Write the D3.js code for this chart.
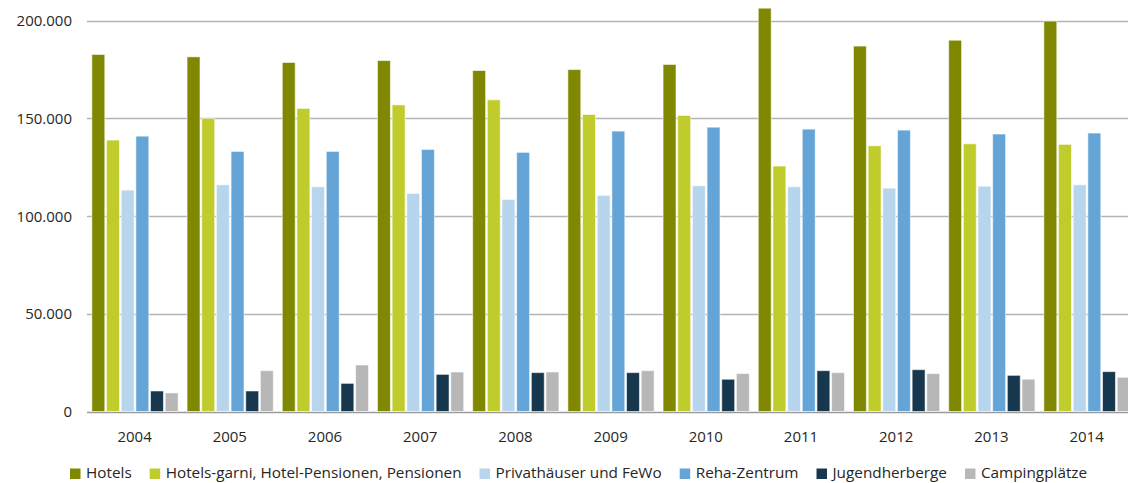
<!DOCTYPE html>
<html>
<head>
<meta charset="utf-8">
<script src="https://cdn.jsdelivr.net/npm/d3@7"></script>
<style>
  body { margin: 0; background: #fff; }
  svg { display: block; font-family: "Open Sans", sans-serif; }
</style>
</head>
<body>
<svg id="chart" width="1128" height="483"></svg>
<script>
// data
var years = ["2004", "2005", "2006", "2007", "2008", "2009", "2010", "2011", "2012", "2013", "2014"];
var seriesNames = ["Hotels", "Hotels-garni, Hotel-Pensionen, Pensionen", "Privathäuser und FeWo", "Reha-Zentrum", "Jugendherberge", "Campingplätze"];
var seriesColors = ["#7f8800", "#c0cc2b", "#b7d5ec", "#64a4d6", "#17374f", "#b7b7b7"];

var hotels   = [182700, 181500, 178600, 179600, 174500, 175000, 177600, 206400, 187000, 190000, 199800];
var garni    = [138900, 150000, 155100, 156900, 159500, 152000, 151500, 125600, 136000, 137000, 136700];
var privat   = [113300, 116000, 115000, 111600, 108500, 110600, 115500, 115000, 114300, 115300, 116000];
var reha     = [140900, 133100, 133100, 134100, 132600, 143500, 145500, 144500, 144000, 142000, 142500];
var jugend   = [10500, 10500, 14400, 19000, 19900, 19900, 16500, 20900, 21400, 18500, 20400];
var camping  = [9500, 20900, 23800, 20200, 20200, 20900, 19400, 19900, 19400, 16500, 17500];

var yTicks = [0, 50000, 100000, 150000, 200000];

var seriesValues = [hotels, garni, privat, reha, jugend, camping];

var svg = d3.select("#chart");
var left = 87, bandStep = 95.2;
var x = d3.scaleBand()
	.domain(years)
	.range([left, left + bandStep * years.length]);
var xs = d3.scaleBand()
	.domain(d3.range(seriesNames.length))
	.range([4, 92])
	.paddingInner(0.12)
	.paddingOuter(0.06);
var y = d3.scaleLinear().domain([0, 200000]).range([411.5, 20.7]);

var fmt = function (v) {
	return d3.format(",")(v).replace(/,/g, ".");
};

// gridlines
svg.append("g")
	.selectAll("line")
	.data(yTicks)
	.enter()
	.append("line")
	.attr("x1", left)
	.attr("x2", 1128)
	.attr("y1", d => Math.round(y(d)) + 0.5)
	.attr("y2", d => Math.round(y(d)) + 0.5)
	.style("stroke", d => d === 0 ? "#9a9a9a" : "#b4b4b4")
	.style("stroke-width", 1.5);

// y labels
svg.append("g")
	.selectAll("text")
	.data(yTicks)
	.enter()
	.append("text")
	.attr("x", 72)
	.attr("y", d => y(d))
	.attr("dy", "0.36em")
	.style("text-anchor", "end")
	.style("font-size", "15px")
	.style("fill", "#262626")
	.text(d => fmt(d));

// bars
var groups = svg.append("g")
	.selectAll("g")
	.data(years)
	.enter()
	.append("g")
	.attr("transform", d => "translate(" + x(d) + ",0)");

groups.selectAll("rect")
	.data((d, i) => seriesValues.map((s, k) => ({ k: k, v: s[i] })))
	.enter()
	.append("rect")
	.attr("x", d => xs(d.k))
	.attr("width", xs.bandwidth())
	.attr("y", d => y(d.v))
	.attr("height", d => y(0) - y(d.v))
	.style("fill", d => seriesColors[d.k])
	.style("stroke", "#ffffff")
	.style("stroke-opacity", 0.55)
	.style("stroke-width", 1);

// year labels
svg.append("g")
	.selectAll("text")
	.data(years)
	.enter()
	.append("text")
	.attr("x", d => x(d) + x.bandwidth() / 2)
	.attr("y", 442)
	.style("text-anchor", "middle")
	.style("font-size", "15px")
	.style("fill", "#262626")
	.text(d => d);

// legend
var legend = svg.append("g");
var lx = 70;
seriesNames.forEach(function (name, k) {
	legend.append("rect")
		.attr("x", lx)
		.attr("y", 468.5)
		.attr("width", 10.5)
		.attr("height", 10.5)
		.style("fill", seriesColors[k]);
	var t = legend.append("text")
		.attr("x", lx + 16)
		.attr("y", 478)
		.style("font-size", "15.3px")
		.style("fill", "#262626")
		.text(name);
	lx += 16 + t.node().getComputedTextLength() + 18;
});
</script>
</body>
</html>
